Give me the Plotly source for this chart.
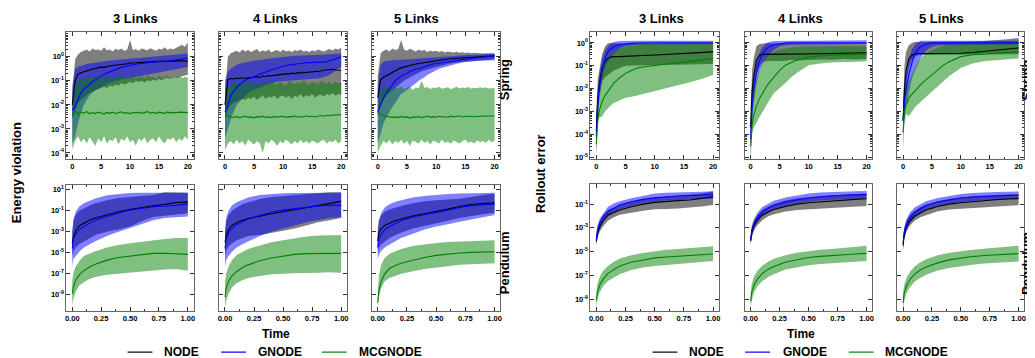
import plotly.graph_objects as go

W, H = 1035, 358
FONT = "Liberation Sans, Arial, sans-serif"

# ---------------- time grids ----------------
t_spring_energy = [0, 0.5, 1, 1.5, 2, 2.5, 3, 3.5, 4, 4.5,
                   5, 5.5, 6, 6.5, 7, 7.5, 8, 8.5, 9, 9.5,
                   10, 10.5, 11, 11.5, 12, 12.5, 13, 13.5, 14, 14.5,
                   15, 15.5, 16, 16.5, 17, 17.5, 18, 18.5, 19, 19.5, 20]
t_spring_rollout = [0, 0.1, 0.25, 0.5, 0.75, 1, 1.5, 2, 2.5, 3, 4, 5, 6, 7, 8, 10, 12, 14, 16, 18, 20]
t_pendulum = [0, 0.01, 0.03, 0.06, 0.1, 0.15, 0.2, 0.3, 0.4, 0.5, 0.6, 0.7, 0.8, 0.9, 1.0]

methods = ["NODE", "GNODE", "MCGNODE"]
link_titles = ["3 Links", "4 Links", "5 Links"]
x_ticks_spring = [0, 5, 10, 15, 20]
x_ticks_pendulum = [0, 0.25, 0.5, 0.75, 1.0]
x_ticklabels_pendulum = ["0.00", "0.25", "0.50", "0.75", "1.00"]

# All series values below are log10 of the plotted quantity.
# ---------------- Energy violation, Spring ----------------
es3_node_mean = [-2.0, -1.0, -0.72, -0.66, -0.62, -0.58, -0.55, -0.53, -0.5, -0.47,
                 -0.42, -0.44, -0.4, -0.38, -0.36, -0.35, -0.33, -0.32, -0.3, -0.29,
                 -0.26, -0.27, -0.25, -0.24, -0.23, -0.22, -0.23, -0.21, -0.2, -0.21,
                 -0.19, -0.18, -0.2, -0.18, -0.17, -0.19, -0.16, -0.18, -0.15, -0.17, -0.18]
es3_node_hi = [-1.5, -0.1, 0.1, 0.2, 0.25, 0.3, 0.22, 0.35, 0.28, 0.3,
               0.25, 0.4, 0.27, 0.3, 0.22, 0.33, 0.28, 0.35, 0.25, 0.3,
               0.7, 0.28, 0.32, 0.25, 0.35, 0.3, 0.27, 0.36, 0.3, 0.25,
               0.33, 0.3, 0.4, 0.28, 0.35, 0.3, 0.38, 0.45, 0.5, 0.42, 0.6]
es3_node_lo = [-2.6, -2.2, -1.9, -1.8, -1.7, -1.6, -1.5, -1.45, -1.4, -1.35,
               -1.3, -1.25, -1.3, -1.2, -1.25, -1.15, -1.2, -1.1, -1.15, -1.1,
               -1.05, -1.1, -1.0, -1.05, -1.0, -1.08, -0.98, -1.02, -0.95, -1.0,
               -0.92, -0.97, -0.9, -0.88, -0.92, -0.85, -0.88, -0.82, -0.8, -0.78, -0.75]
es3_gnode_mean = [-2.2, -2.1, -1.76, -1.5, -1.34, -1.22, -1.13, -1.03, -0.95, -0.85,
                  -0.77, -0.72, -0.67, -0.62, -0.56, -0.52, -0.48, -0.44, -0.4, -0.37,
                  -0.35, -0.33, -0.31, -0.29, -0.27, -0.25, -0.24, -0.23, -0.22, -0.21,
                  -0.21, -0.2, -0.19, -0.18, -0.16, -0.15, -0.13, -0.11, -0.09, -0.06, -0.04]
es3_gnode_hi = [-1.2, -0.5, -0.4, -0.38, -0.35, -0.3, -0.28, -0.25, -0.22, -0.2,
                -0.18, -0.17, -0.16, -0.15, -0.14, -0.13, -0.12, -0.11, -0.1, -0.09,
                -0.08, -0.06, -0.05, -0.04, -0.03, -0.02, -0.01, 0.0, 0.01, 0.02,
                0.03, 0.04, 0.05, 0.06, 0.07, 0.08, 0.09, 0.1, 0.11, 0.12, 0.14]
es3_gnode_lo = [-3.6, -3.3, -2.75, -2.35, -2.0, -1.8, -1.6, -1.48, -1.38, -1.32,
                -1.27, -1.2, -1.14, -1.08, -1.04, -1.0, -0.97, -0.94, -0.91, -0.88,
                -0.85, -0.83, -0.81, -0.79, -0.77, -0.75, -0.73, -0.71, -0.69, -0.67,
                -0.65, -0.63, -0.61, -0.59, -0.56, -0.54, -0.52, -0.5, -0.47, -0.45, -0.42]
es3_mc_mean = [-2.45, -2.25, -2.4, -2.3, -2.35, -2.28, -2.37, -2.32, -2.36, -2.3,
               -2.34, -2.38, -2.31, -2.35, -2.3, -2.36, -2.33, -2.29, -2.35, -2.32,
               -2.37, -2.31, -2.34, -2.3, -2.35, -2.33, -2.28, -2.34, -2.31, -2.36,
               -2.3, -2.33, -2.35, -2.29, -2.34, -2.31, -2.33, -2.3, -2.32, -2.31, -2.32]
es3_mc_hi = [-2.0, -1.3, -1.0, -0.95, -0.85, -0.9, -0.8, -0.95, -0.75, -0.88,
             -0.82, -0.92, -0.78, -0.85, -0.95, -0.8, -0.88, -0.7, -0.9, -0.83,
             -0.87, -0.78, -0.92, -0.84, -0.8, -0.9, -0.76, -0.86, -0.82, -0.93,
             -0.79, -0.85, -0.88, -0.77, -0.9, -0.83, -0.86, -0.8, -0.88, -0.84, -0.85]
es3_mc_lo = [-3.85, -3.5, -3.3, -3.55, -3.4, -3.6, -3.35, -3.5, -3.7, -3.4,
             -3.55, -3.3, -3.6, -3.45, -3.5, -3.35, -3.65, -3.4, -3.5, -3.3,
             -3.55, -3.45, -3.7, -3.4, -3.5, -3.35, -3.6, -3.45, -3.4, -3.55,
             -3.3, -3.5, -3.6, -3.4, -3.45, -3.35, -3.55, -3.4, -3.5, -3.3, -3.45]

es4_node_mean = [-2.0, -0.95, -0.9, -0.92, -0.88, -0.9, -0.87, -0.9, -0.86, -0.88,
                 -0.85, -0.83, -0.86, -0.8, -0.82, -0.78, -0.8, -0.76, -0.77, -0.72,
                 -0.74, -0.7, -0.72, -0.68, -0.7, -0.66, -0.68, -0.64, -0.66, -0.62,
                 -0.64, -0.6, -0.62, -0.58, -0.56, -0.54, -0.53, -0.52, -0.55, -0.54, -0.56]
es4_node_hi = [-1.5, 0.0, 0.15, 0.2, 0.25, 0.18, 0.3, 0.22, 0.28, 0.2,
               0.25, 0.32, 0.2, 0.27, 0.22, 0.3, 0.18, 0.25, 0.28, 0.2,
               0.3, 0.22, 0.26, 0.2, 0.28, 0.24, 0.3, 0.22, 0.25, 0.2,
               0.27, 0.23, 0.3, 0.25, 0.22, 0.28, 0.32, 0.26, 0.35, 0.3, 0.38]
es4_node_lo = [-2.6, -2.2, -2.0, -1.9, -1.85, -1.8, -1.75, -1.8, -1.7, -1.75,
               -1.65, -1.8, -1.7, -1.6, -1.75, -1.65, -1.7, -1.6, -1.75, -1.65,
               -1.6, -1.7, -1.62, -1.75, -1.6, -1.68, -1.55, -1.7, -1.6, -1.65,
               -1.55, -1.7, -1.6, -1.58, -1.65, -1.55, -1.6, -1.5, -1.62, -1.55, -1.58]
es4_gnode_mean = [-2.3, -2.0, -1.6, -1.42, -1.27, -1.15, -1.05, -0.97, -0.92, -0.88,
                  -0.85, -0.78, -0.72, -0.66, -0.63, -0.58, -0.54, -0.5, -0.46, -0.42,
                  -0.38, -0.36, -0.34, -0.32, -0.3, -0.28, -0.27, -0.26, -0.25, -0.24,
                  -0.24, -0.23, -0.22, -0.21, -0.21, -0.2, -0.17, -0.13, -0.09, -0.04, 0.0]
es4_gnode_hi = [-1.0, -0.6, -0.5, -0.4, -0.33, -0.28, -0.25, -0.22, -0.2, -0.18,
                -0.16, -0.14, -0.12, -0.1, -0.08, -0.07, -0.06, -0.05, -0.04, -0.02,
                0.0, 0.01, 0.02, 0.03, 0.04, 0.05, 0.06, 0.06, 0.07, 0.07,
                0.07, 0.08, 0.08, 0.09, 0.1, 0.1, 0.11, 0.12, 0.12, 0.13, 0.14]
es4_gnode_lo = [-3.4, -3.0, -2.6, -2.3, -2.0, -1.88, -1.75, -1.62, -1.5, -1.42,
                -1.36, -1.31, -1.27, -1.22, -1.18, -1.14, -1.1, -1.06, -1.03, -1.01,
                -1.0, -0.98, -0.97, -0.96, -0.95, -0.94, -0.93, -0.93, -0.92, -0.92,
                -0.92, -0.91, -0.9, -0.88, -0.85, -0.8, -0.75, -0.68, -0.58, -0.5, -0.42]
es4_mc_mean = [-2.5, -2.45, -2.5, -2.52, -2.48, -2.53, -2.5, -2.47, -2.52, -2.5,
               -2.54, -2.49, -2.51, -2.47, -2.52, -2.5, -2.53, -2.48, -2.51, -2.5,
               -2.47, -2.52, -2.49, -2.5, -2.46, -2.51, -2.48, -2.5, -2.45, -2.49,
               -2.47, -2.5, -2.46, -2.44, -2.47, -2.43, -2.45, -2.41, -2.43, -2.4, -2.42]
es4_mc_hi = [-2.0, -1.3, -1.1, -1.15, -1.0, -1.2, -1.05, -1.1, -0.95, -1.15,
             -1.08, -1.2, -1.0, -1.12, -1.05, -1.18, -0.98, -1.1, -1.15, -1.02,
             -1.12, -1.2, -1.0, -1.08, -1.15, -1.05, -1.12, -0.98, -1.1, -1.18,
             -1.03, -1.1, -1.15, -1.0, -1.08, -1.12, -1.05, -1.15, -1.02, -1.1, -1.08]
es4_mc_lo = [-3.9, -3.6, -3.5, -3.65, -3.45, -3.6, -3.5, -3.7, -3.45, -3.55,
             -3.65, -3.5, -3.6, -4.0, -3.5, -3.6, -3.45, -3.55, -3.7, -3.5,
             -3.6, -3.45, -3.55, -3.65, -3.5, -3.6, -3.45, -3.58, -3.5, -3.62,
             -3.48, -3.55, -3.6, -3.5, -3.45, -3.6, -3.5, -3.55, -3.45, -3.6, -3.5]

es5_node_mean = [-1.7, -0.95, -0.85, -0.78, -0.7, -0.63, -0.56, -0.52, -0.46, -0.42,
                 -0.38, -0.35, -0.33, -0.3, -0.28, -0.25, -0.23, -0.21, -0.19, -0.17,
                 -0.14, -0.13, -0.11, -0.1, -0.09, -0.08, -0.07, -0.06, -0.05, -0.05,
                 -0.04, -0.03, -0.02, -0.01, 0.0, 0.01, 0.02, 0.02, 0.03, 0.03, 0.04]
es5_node_hi = [-0.8, 0.15, 0.25, 0.3, 0.22, 0.35, 0.28, 0.32, 0.7, 0.3,
               0.25, 0.33, 0.28, 0.22, 0.3, 0.25, 0.28, 0.2, 0.26, 0.22,
               0.25, 0.2, 0.24, 0.18, 0.22, 0.2, 0.18, 0.21, 0.17, 0.19,
               0.16, 0.18, 0.15, 0.17, 0.15, 0.16, 0.14, 0.15, 0.14, 0.15, 0.14]
es5_node_lo = [-2.5, -2.0, -1.8, -1.6, -1.5, -1.4, -1.3, -1.2, -1.1, -1.0,
               -0.92, -0.85, -0.78, -0.72, -0.66, -0.6, -0.56, -0.52, -0.48, -0.45,
               -0.42, -0.39, -0.36, -0.33, -0.3, -0.28, -0.26, -0.24, -0.22, -0.2,
               -0.19, -0.18, -0.17, -0.16, -0.15, -0.14, -0.13, -0.12, -0.12, -0.11, -0.1]
es5_gnode_mean = [-2.3, -2.0, -1.7, -1.5, -1.34, -1.16, -1.0, -0.9, -0.8, -0.75,
                  -0.7, -0.6, -0.55, -0.52, -0.5, -0.45, -0.41, -0.37, -0.33, -0.3,
                  -0.28, -0.26, -0.24, -0.22, -0.2, -0.19, -0.18, -0.16, -0.14, -0.12,
                  -0.1, -0.09, -0.07, -0.06, -0.04, -0.03, -0.01, 0.0, 0.02, 0.03, 0.04]
es5_gnode_hi = [-1.2, -0.35, -0.2, -0.17, -0.15, -0.14, -0.14, -0.13, -0.13, -0.12,
                -0.12, -0.1, -0.09, -0.08, -0.07, -0.06, -0.05, -0.04, -0.03, -0.02,
                0.0, 0.01, 0.01, 0.02, 0.03, 0.04, 0.04, 0.05, 0.06, 0.06,
                0.07, 0.08, 0.08, 0.09, 0.1, 0.1, 0.11, 0.12, 0.12, 0.13, 0.14]
es5_gnode_lo = [-3.6, -3.2, -2.75, -2.5, -2.3, -2.1, -1.9, -1.72, -1.55, -1.47,
                -1.4, -1.3, -1.2, -1.1, -1.0, -0.92, -0.85, -0.76, -0.7, -0.62,
                -0.56, -0.5, -0.46, -0.42, -0.38, -0.35, -0.32, -0.29, -0.26, -0.23,
                -0.2, -0.19, -0.18, -0.17, -0.16, -0.16, -0.15, -0.15, -0.14, -0.14, -0.14]
es5_mc_mean = [-2.3, -2.4, -2.45, -2.48, -2.5, -2.52, -2.5, -2.53, -2.48, -2.52,
               -2.5, -2.55, -2.5, -2.52, -2.48, -2.53, -2.5, -2.47, -2.52, -2.49,
               -2.51, -2.47, -2.5, -2.48, -2.52, -2.46, -2.5, -2.48, -2.45, -2.5,
               -2.47, -2.49, -2.46, -2.5, -2.47, -2.48, -2.45, -2.47, -2.46, -2.45, -2.45]
es5_mc_hi = [-2.0, -1.4, -1.27, -1.3, -1.25, -1.35, -1.28, -1.32, -1.22, -1.35,
             -1.3, -1.25, -1.38, -1.28, -1.32, -1.0, -1.3, -1.26, -1.34, -1.28,
             -1.3, -1.24, -1.33, -1.29, -1.27, -1.35, -1.3, -1.25, -1.32, -1.28,
             -1.3, -1.26, -1.33, -1.29, -1.31, -1.27, -1.3, -1.28, -1.32, -1.3, -1.3]
es5_mc_lo = [-4.0, -3.7, -3.5, -3.6, -3.45, -3.65, -3.5, -3.58, -3.45, -3.62,
             -3.5, -3.7, -3.48, -3.55, -3.6, -3.45, -3.58, -3.5, -3.65, -3.48,
             -3.55, -3.6, -3.45, -3.58, -3.52, -3.62, -3.48, -3.55, -3.6, -3.5,
             -3.45, -3.58, -3.52, -3.6, -3.48, -3.55, -3.5, -3.58, -3.45, -3.55, -3.5]

# ---------------- Energy violation, Pendulum ----------------
ep3_node_mean = [-4.06, -3.5, -2.9, -2.45, -2.2, -1.9, -1.7, -1.4, -1.1, -0.9, -0.7, -0.53, -0.4, -0.22, -0.19]
ep3_node_hi = [-3.0, -2.0, -1.4, -1.0, -0.8, -0.5, -0.3, 0.0, 0.2, 0.3, 0.4, 0.5, 0.75, 0.7, 0.7]
ep3_node_lo = [-5.3, -4.9, -4.5, -4.2, -3.9, -3.6, -3.3, -3.0, -2.8, -2.5, -2.0, -1.6, -1.45, -1.35, -1.25]
ep3_gnode_mean = [-4.6, -3.7, -3.2, -2.8, -2.5, -2.2, -1.9, -1.56, -1.25, -0.94, -0.78, -0.63, -0.58, -0.5, -0.38]
ep3_gnode_hi = [-3.1, -1.8, -1.1, -0.6, -0.3, -0.05, 0.16, 0.47, 0.6, 0.68, 0.7, 0.7, 0.72, 0.7, 0.7]
ep3_gnode_lo = [-6.25, -5.6, -5.3, -4.9, -4.5, -4.2, -3.9, -3.4, -3.0, -2.65, -2.3, -1.9, -1.7, -1.62, -1.56]
ep3_mc_mean = [-8.9, -8.2, -7.6, -7.1, -6.7, -6.35, -6.1, -5.7, -5.45, -5.3, -5.15, -5.06, -5.05, -5.08, -5.15]
ep3_mc_hi = [-7.65, -6.9, -6.3, -5.8, -5.3, -5.05, -4.85, -4.5, -4.25, -4.1, -3.95, -3.8, -3.7, -3.6, -3.6]
ep3_mc_lo = [-10.0, -9.4, -8.7, -8.1, -7.8, -7.5, -7.3, -7.1, -7.0, -6.9, -6.8, -6.7, -6.6, -6.55, -6.7]

ep4_node_mean = [-4.0, -3.4, -2.8, -2.4, -2.15, -1.9, -1.75, -1.5, -1.3, -1.1, -0.9, -0.7, -0.45, -0.25, -0.12]
ep4_node_hi = [-3.0, -2.0, -1.4, -1.0, -0.7, -0.4, -0.2, 0.1, 0.3, 0.4, 0.5, 0.6, 0.7, 0.75, 0.75]
ep4_node_lo = [-5.2, -4.8, -4.4, -4.1, -3.8, -3.6, -3.4, -3.3, -3.1, -2.9, -2.7, -2.4, -2.1, -1.9, -1.7]
ep4_gnode_mean = [-4.6, -3.7, -3.1, -2.7, -2.35, -2.05, -1.8, -1.45, -1.15, -0.95, -0.8, -0.65, -0.55, -0.5, -0.47]
ep4_gnode_hi = [-3.0, -1.7, -1.0, -0.5, -0.2, 0.05, 0.25, 0.5, 0.6, 0.65, 0.68, 0.7, 0.7, 0.72, 0.7]
ep4_gnode_lo = [-6.3, -5.7, -5.3, -4.9, -4.5, -4.2, -3.9, -3.4, -3.0, -2.7, -2.4, -2.1, -1.9, -1.7, -1.6]
ep4_mc_mean = [-9.2, -8.4, -7.7, -7.2, -6.8, -6.4, -6.15, -5.75, -5.5, -5.3, -5.15, -5.08, -5.05, -5.06, -5.06]
ep4_mc_hi = [-7.8, -7.0, -6.3, -5.7, -5.2, -4.9, -4.65, -4.3, -4.0, -3.8, -3.6, -3.45, -3.35, -3.3, -3.3]
ep4_mc_lo = [-10.2, -9.6, -8.9, -8.3, -7.9, -7.6, -7.4, -7.2, -7.05, -7.0, -6.95, -6.9, -6.9, -6.85, -6.9]

ep5_node_mean = [-3.9, -3.1, -2.7, -2.4, -2.2, -1.95, -1.8, -1.5, -1.3, -1.1, -0.85, -0.6, -0.42, -0.32, -0.25]
ep5_node_hi = [-2.8, -1.9, -1.4, -1.1, -0.9, -0.7, -0.55, -0.3, -0.1, 0.0, 0.08, 0.14, 0.3, 0.5, 0.6]
ep5_node_lo = [-5.0, -4.5, -4.2, -3.9, -3.6, -3.3, -3.1, -2.7, -2.45, -2.2, -1.95, -1.7, -1.5, -1.35, -1.2]
ep5_gnode_mean = [-4.5, -3.7, -3.2, -2.8, -2.5, -2.2, -1.95, -1.6, -1.4, -1.2, -0.95, -0.7, -0.52, -0.43, -0.38]
ep5_gnode_hi = [-3.3, -2.0, -1.2, -0.7, -0.4, -0.15, 0.0, 0.25, 0.4, 0.5, 0.58, 0.62, 0.66, 0.68, 0.7]
ep5_gnode_lo = [-5.6, -5.2, -4.8, -4.5, -4.2, -3.9, -3.6, -3.2, -2.8, -2.5, -2.3, -2.05, -1.8, -1.6, -1.4]
ep5_mc_mean = [-9.75, -8.6, -7.7, -7.0, -6.5, -6.2, -6.0, -5.7, -5.45, -5.25, -5.12, -5.02, -4.96, -4.92, -4.9]
ep5_mc_hi = [-8.75, -7.2, -6.1, -5.5, -5.1, -4.85, -4.65, -4.35, -4.2, -4.06, -3.98, -3.92, -3.87, -3.83, -3.8]
ep5_mc_lo = [-10.0, -9.2, -8.3, -7.7, -7.4, -7.2, -7.0, -6.75, -6.55, -6.4, -6.28, -6.15, -6.08, -6.03, -6.0]

# ---------------- Rollout error, Spring ----------------
rs3_node_mean = [-3.85, -3.0, -2.45, -1.83, -1.4, -1.1, -0.82, -0.68, -0.62, -0.6, -0.6, -0.58, -0.57, -0.56, -0.55, -0.53, -0.5, -0.46, -0.43, -0.41, -0.39]
rs3_node_hi = [-3.0, -2.0, -1.6, -1.2, -0.8, -0.5, -0.15, -0.02, 0.0, -0.02, -0.03, -0.04, -0.05, -0.05, -0.05, -0.05, -0.05, -0.04, -0.04, -0.04, -0.03]
rs3_node_lo = [-4.6, -4.0, -3.3, -2.3, -1.95, -1.7, -1.5, -1.4, -1.3, -1.2, -1.1, -1.0, -1.0, -0.98, -0.98, -0.97, -0.96, -0.95, -0.95, -0.93, -0.92]
rs3_gnode_mean = [-4.1, -3.3, -2.7, -1.97, -1.5, -1.18, -0.68, -0.39, -0.26, -0.17, -0.07, -0.03, -0.02, -0.01, 0.0, 0.0, 0.0, 0.0, 0.0, 0.0, 0.0]
rs3_gnode_hi = [-3.3, -2.5, -2.0, -1.4, -1.0, -0.7, -0.35, -0.15, -0.03, 0.04, 0.08, 0.09, 0.09, 0.09, 0.09, 0.09, 0.09, 0.09, 0.09, 0.1, 0.1]
rs3_gnode_lo = [-4.9, -4.0, -3.4, -2.55, -2.1, -1.62, -1.1, -0.82, -0.62, -0.46, -0.24, -0.13, -0.1, -0.08, -0.07, -0.07, -0.07, -0.06, -0.06, -0.06, -0.06]
rs3_mc_mean = [-4.42, -3.8, -3.4, -2.98, -2.75, -2.55, -2.3, -2.12, -1.93, -1.76, -1.52, -1.33, -1.2, -1.1, -1.05, -0.97, -0.92, -0.87, -0.82, -0.75, -0.68]
rs3_mc_hi = [-3.56, -3.0, -2.5, -1.97, -1.55, -1.25, -0.9, -0.68, -0.5, -0.39, -0.25, -0.17, -0.11, -0.07, -0.05, -0.03, -0.03, -0.03, -0.03, -0.03, -0.03]
rs3_mc_lo = [-4.93, -4.2, -3.6, -3.27, -3.25, -3.2, -3.0, -2.84, -2.72, -2.62, -2.5, -2.4, -2.35, -2.3, -2.25, -2.12, -2.0, -1.85, -1.72, -1.58, -1.4]

rs4_node_mean = [-3.7, -2.8, -2.1, -1.5, -1.0, -0.75, -0.55, -0.5, -0.5, -0.5, -0.5, -0.5, -0.5, -0.5, -0.49, -0.48, -0.47, -0.46, -0.45, -0.44, -0.43]
rs4_node_hi = [-2.8, -1.8, -1.2, -0.7, -0.35, -0.15, -0.05, -0.02, -0.02, -0.02, -0.03, -0.03, -0.03, -0.03, -0.03, -0.03, -0.03, -0.03, -0.03, -0.03, -0.03]
rs4_node_lo = [-4.5, -3.6, -2.9, -2.3, -1.8, -1.4, -1.05, -0.85, -0.8, -0.78, -0.78, -0.8, -0.78, -0.75, -0.77, -0.75, -0.72, -0.74, -0.7, -0.72, -0.7]
rs4_gnode_mean = [-4.2, -3.4, -2.8, -2.1, -1.65, -1.3, -0.8, -0.5, -0.32, -0.2, -0.08, -0.03, -0.01, 0.0, 0.0, 0.0, 0.0, 0.0, 0.0, 0.0, 0.0]
rs4_gnode_hi = [-3.4, -2.6, -2.1, -1.5, -1.1, -0.8, -0.45, -0.2, -0.06, 0.03, 0.08, 0.09, 0.09, 0.09, 0.09, 0.09, 0.09, 0.09, 0.09, 0.1, 0.12]
rs4_gnode_lo = [-5.0, -4.1, -3.5, -2.7, -2.25, -1.8, -1.25, -0.95, -0.72, -0.55, -0.3, -0.15, -0.1, -0.08, -0.07, -0.07, -0.06, -0.06, -0.06, -0.05, -0.05]
rs4_mc_mean = [-4.5, -4.0, -3.6, -3.2, -2.95, -2.75, -2.45, -2.2, -2.0, -1.8, -1.5, -1.2, -0.97, -0.85, -0.75, -0.62, -0.56, -0.53, -0.51, -0.5, -0.49]
rs4_mc_hi = [-3.8, -3.2, -2.7, -2.2, -1.85, -1.6, -1.2, -0.9, -0.7, -0.55, -0.4, -0.3, -0.24, -0.2, -0.17, -0.16, -0.15, -0.15, -0.15, -0.15, -0.15]
rs4_mc_lo = [-5.1, -4.5, -4.0, -3.7, -3.6, -3.5, -3.25, -3.0, -2.8, -2.6, -2.2, -1.97, -1.75, -1.5, -1.3, -0.97, -0.9, -0.85, -0.82, -0.82, -0.8]

rs5_node_mean = [-3.4, -2.6, -2.0, -1.25, -0.9, -0.68, -0.55, -0.47, -0.46, -0.46, -0.46, -0.46, -0.46, -0.46, -0.46, -0.45, -0.42, -0.37, -0.31, -0.26, -0.22]
rs5_node_hi = [-2.8, -1.6, -1.0, -0.4, -0.2, -0.1, 0.0, 0.04, 0.04, 0.04, 0.04, 0.04, 0.04, 0.04, 0.04, 0.05, 0.06, 0.08, 0.11, 0.16, 0.22]
rs5_node_lo = [-4.0, -3.4, -2.9, -2.26, -1.5, -1.1, -0.75, -0.6, -0.55, -0.53, -0.53, -0.53, -0.53, -0.53, -0.53, -0.53, -0.52, -0.5, -0.5, -0.5, -0.5]
rs5_gnode_mean = [-3.4, -2.9, -2.5, -2.12, -1.75, -1.4, -0.9, -0.53, -0.3, -0.17, -0.05, 0.0, 0.0, 0.0, 0.0, 0.0, 0.0, 0.0, 0.0, 0.0, 0.0]
rs5_gnode_hi = [-2.8, -2.2, -1.8, -1.4, -1.0, -0.68, -0.3, -0.1, 0.02, 0.09, 0.09, 0.09, 0.09, 0.09, 0.09, 0.09, 0.09, 0.09, 0.09, 0.1, 0.1]
rs5_gnode_lo = [-4.0, -3.6, -3.2, -2.84, -2.5, -2.12, -1.6, -1.25, -0.95, -0.68, -0.32, -0.17, -0.1, -0.07, -0.07, -0.07, -0.07, -0.07, -0.07, -0.07, -0.07]
rs5_mc_mean = [-3.9, -3.3, -3.0, -2.7, -2.6, -2.4, -2.25, -2.12, -1.98, -1.83, -1.6, -1.4, -1.17, -0.97, -0.82, -0.6, -0.52, -0.48, -0.45, -0.42, -0.39]
rs5_mc_hi = [-3.27, -2.6, -2.2, -2.12, -1.9, -1.68, -1.4, -1.1, -0.85, -0.68, -0.45, -0.32, -0.22, -0.13, -0.09, -0.07, -0.05, -0.04, -0.03, -0.03, -0.03]
rs5_mc_lo = [-4.7, -4.0, -3.5, -3.13, -3.15, -3.2, -3.0, -2.84, -2.7, -2.55, -2.35, -2.12, -1.9, -1.69, -1.45, -1.1, -0.9, -0.8, -0.75, -0.72, -0.68]

# ---------------- Rollout error, Pendulum ----------------
rp3_node_mean = [-4.14, -3.5, -2.9, -2.4, -1.92, -1.7, -1.5, -1.22, -1.0, -0.85, -0.75, -0.7, -0.65, -0.52, -0.39]
rp3_node_hi = [-3.8, -3.0, -2.4, -1.9, -1.5, -1.25, -1.05, -0.8, -0.6, -0.45, -0.38, -0.3, -0.22, -0.1, 0.08]
rp3_node_lo = [-4.4, -3.9, -3.3, -2.85, -2.4, -2.1, -1.9, -1.7, -1.55, -1.44, -1.4, -1.36, -1.3, -1.2, -1.08]
rp3_gnode_mean = [-4.0, -3.2, -2.6, -2.1, -1.64, -1.35, -1.08, -0.8, -0.6, -0.47, -0.38, -0.32, -0.27, -0.22, -0.19]
rp3_gnode_hi = [-3.6, -2.8, -2.2, -1.75, -1.22, -0.95, -0.75, -0.5, -0.3, -0.11, -0.05, 0.0, 0.03, 0.05, 0.08]
rp3_gnode_lo = [-4.55, -3.7, -3.0, -2.5, -2.05, -1.75, -1.44, -1.15, -0.9, -0.8, -0.7, -0.65, -0.6, -0.56, -0.53]
rp3_mc_mean = [-9.14, -8.4, -7.8, -7.3, -6.83, -6.5, -6.22, -5.9, -5.7, -5.53, -5.45, -5.38, -5.3, -5.25, -5.2]
rp3_mc_hi = [-8.45, -7.7, -7.1, -6.6, -6.22, -5.85, -5.58, -5.3, -5.12, -4.97, -4.85, -4.78, -4.7, -4.62, -4.55]
rp3_mc_lo = [-9.7, -9.0, -8.4, -7.9, -7.47, -7.15, -6.9, -6.55, -6.35, -6.22, -6.1, -6.0, -5.95, -5.88, -5.8]

rp4_node_mean = [-4.1, -3.4, -2.8, -2.3, -1.9, -1.65, -1.45, -1.2, -1.0, -0.88, -0.8, -0.73, -0.67, -0.6, -0.55]
rp4_node_hi = [-3.8, -3.0, -2.4, -1.9, -1.5, -1.2, -1.0, -0.7, -0.5, -0.4, -0.32, -0.25, -0.2, -0.15, -0.1]
rp4_node_lo = [-4.4, -3.8, -3.2, -2.75, -2.35, -2.05, -1.85, -1.62, -1.5, -1.4, -1.35, -1.3, -1.25, -1.2, -1.15]
rp4_gnode_mean = [-4.0, -3.2, -2.6, -2.1, -1.65, -1.35, -1.1, -0.82, -0.62, -0.48, -0.38, -0.3, -0.25, -0.22, -0.2]
rp4_gnode_hi = [-3.6, -2.8, -2.2, -1.7, -1.25, -0.95, -0.72, -0.45, -0.25, -0.1, -0.02, 0.03, 0.06, 0.08, 0.1]
rp4_gnode_lo = [-4.5, -3.7, -3.0, -2.5, -2.05, -1.75, -1.45, -1.15, -0.92, -0.8, -0.7, -0.64, -0.58, -0.55, -0.52]
rp4_mc_mean = [-9.2, -8.4, -7.8, -7.3, -6.85, -6.5, -6.25, -5.9, -5.68, -5.5, -5.4, -5.32, -5.25, -5.2, -5.15]
rp4_mc_hi = [-8.5, -7.7, -7.1, -6.6, -6.2, -5.85, -5.6, -5.3, -5.1, -4.95, -4.85, -4.78, -4.7, -4.62, -4.5]
rp4_mc_lo = [-9.8, -9.1, -8.4, -7.9, -7.5, -7.15, -6.9, -6.5, -6.3, -6.15, -6.05, -5.97, -5.9, -5.85, -5.8]

rp5_node_mean = [-4.5, -3.6, -2.9, -2.4, -2.0, -1.72, -1.5, -1.2, -1.0, -0.88, -0.78, -0.7, -0.63, -0.57, -0.53]
rp5_node_hi = [-4.0, -3.1, -2.4, -1.9, -1.55, -1.25, -1.05, -0.75, -0.55, -0.42, -0.33, -0.27, -0.22, -0.18, -0.15]
rp5_node_lo = [-4.9, -4.0, -3.3, -2.8, -2.4, -2.1, -1.9, -1.6, -1.45, -1.35, -1.3, -1.25, -1.2, -1.15, -1.1]
rp5_gnode_mean = [-4.3, -3.4, -2.7, -2.15, -1.7, -1.38, -1.12, -0.82, -0.62, -0.48, -0.4, -0.34, -0.3, -0.27, -0.25]
rp5_gnode_hi = [-3.8, -2.9, -2.25, -1.7, -1.28, -0.98, -0.75, -0.48, -0.28, -0.14, -0.06, 0.0, 0.03, 0.05, 0.07]
rp5_gnode_lo = [-4.8, -3.9, -3.2, -2.6, -2.15, -1.8, -1.5, -1.18, -0.95, -0.82, -0.74, -0.68, -0.62, -0.58, -0.55]
rp5_mc_mean = [-9.3, -8.5, -7.9, -7.35, -6.9, -6.55, -6.3, -5.95, -5.7, -5.53, -5.42, -5.33, -5.26, -5.2, -5.17]
rp5_mc_hi = [-8.6, -7.8, -7.2, -6.7, -6.25, -5.9, -5.65, -5.3, -5.1, -4.95, -4.85, -4.75, -4.65, -4.57, -4.5]
rp5_mc_lo = [-9.9, -9.2, -8.5, -8.0, -7.55, -7.2, -6.95, -6.6, -6.38, -6.22, -6.1, -6.0, -5.93, -5.87, -5.83]

# ---------------- panel table ----------------
panel_series = {
    "es3": [(es3_node_mean, es3_node_lo, es3_node_hi), (es3_gnode_mean, es3_gnode_lo, es3_gnode_hi), (es3_mc_mean, es3_mc_lo, es3_mc_hi)],
    "es4": [(es4_node_mean, es4_node_lo, es4_node_hi), (es4_gnode_mean, es4_gnode_lo, es4_gnode_hi), (es4_mc_mean, es4_mc_lo, es4_mc_hi)],
    "es5": [(es5_node_mean, es5_node_lo, es5_node_hi), (es5_gnode_mean, es5_gnode_lo, es5_gnode_hi), (es5_mc_mean, es5_mc_lo, es5_mc_hi)],
    "ep3": [(ep3_node_mean, ep3_node_lo, ep3_node_hi), (ep3_gnode_mean, ep3_gnode_lo, ep3_gnode_hi), (ep3_mc_mean, ep3_mc_lo, ep3_mc_hi)],
    "ep4": [(ep4_node_mean, ep4_node_lo, ep4_node_hi), (ep4_gnode_mean, ep4_gnode_lo, ep4_gnode_hi), (ep4_mc_mean, ep4_mc_lo, ep4_mc_hi)],
    "ep5": [(ep5_node_mean, ep5_node_lo, ep5_node_hi), (ep5_gnode_mean, ep5_gnode_lo, ep5_gnode_hi), (ep5_mc_mean, ep5_mc_lo, ep5_mc_hi)],
    "rs3": [(rs3_node_mean, rs3_node_lo, rs3_node_hi), (rs3_gnode_mean, rs3_gnode_lo, rs3_gnode_hi), (rs3_mc_mean, rs3_mc_lo, rs3_mc_hi)],
    "rs4": [(rs4_node_mean, rs4_node_lo, rs4_node_hi), (rs4_gnode_mean, rs4_gnode_lo, rs4_gnode_hi), (rs4_mc_mean, rs4_mc_lo, rs4_mc_hi)],
    "rs5": [(rs5_node_mean, rs5_node_lo, rs5_node_hi), (rs5_gnode_mean, rs5_gnode_lo, rs5_gnode_hi), (rs5_mc_mean, rs5_mc_lo, rs5_mc_hi)],
    "rp3": [(rp3_node_mean, rp3_node_lo, rp3_node_hi), (rp3_gnode_mean, rp3_gnode_lo, rp3_gnode_hi), (rp3_mc_mean, rp3_mc_lo, rp3_mc_hi)],
    "rp4": [(rp4_node_mean, rp4_node_lo, rp4_node_hi), (rp4_gnode_mean, rp4_gnode_lo, rp4_gnode_hi), (rp4_mc_mean, rp4_mc_lo, rp4_mc_hi)],
    "rp5": [(rp5_node_mean, rp5_node_lo, rp5_node_hi), (rp5_gnode_mean, rp5_gnode_lo, rp5_gnode_hi), (rp5_mc_mean, rp5_mc_lo, rp5_mc_hi)],
}

# ---------------- styling / geometry ----------------
LINE_COLORS = ["black", "#0000ff", "#008000"]
FILL_COLORS = ["rgba(0,0,0,0.5)", "rgba(0,0,255,0.5)", "rgba(0,128,0,0.5)"]

kinds = {
    "es": dict(t=t_spring_energy, yrange=[-4.25, 1.03], yexp=[0, -1, -2, -3, -4], yminor=True, spring=True),
    "ep": dict(t=t_pendulum, yrange=[-10.56, 1.41], yexp=[1, -1, -3, -5, -7, -9], yminor=False, spring=False),
    "rs": dict(t=t_spring_rollout, yrange=[-5.07, 0.475], yexp=[0, -1, -2, -3, -4, -5], yminor=True, spring=True),
    "rp": dict(t=t_pendulum, yrange=[-10.03, 0.67], yexp=[-1, -3, -5, -7, -9], yminor=False, spring=False),
}

left_cols = [(56.7, 184.3), (210.0, 338.3), (363.3, 492.3)]
right_cols = [(582.7, 711.7), (737.7, 865.7), (890.7, 1018.3)]
top_row = (23.3, 151.7)
bot_row_left = (178.3, 305.7)
bot_row_right = (177.3, 305.7)
title_cx_left = [125.8, 267.0, 408.0]
title_cx_right = [654.0, 794.0, 934.7]

panels = []
for c in range(3):
    panels.append((f"es{c+3}", "es", left_cols[c], top_row, c))
for c in range(3):
    panels.append((f"ep{c+3}", "ep", left_cols[c], bot_row_left, c))
for c in range(3):
    panels.append((f"rs{c+3}", "rs", right_cols[c], top_row, c))
for c in range(3):
    panels.append((f"rp{c+3}", "rp", right_cols[c], bot_row_right, c))

fig = go.Figure()
layout_axes = {}
minor_log = [m * 10.0 ** k for k in range(-12, 2) for m in range(2, 10)]

for i, (key, kind, (x0, x1), (y0, y1), col) in enumerate(panels):
    n = i + 1
    xa = "x" if n == 1 else f"x{n}"
    ya = "y" if n == 1 else f"y{n}"
    spec = kinds[kind]
    t = spec["t"]
    ser = panel_series[key]
    for (mean, lo, hi) in ser:
        if not (len(mean) == len(lo) == len(hi) == len(t)):
            raise ValueError(f"length mismatch in {key}: {len(mean)},{len(lo)},{len(hi)} vs {len(t)}")
    for (mean, lo, hi), fc in zip(ser, FILL_COLORS):
        fig.add_trace(go.Scatter(
            x=list(t) + list(t)[::-1],
            y=[10 ** v for v in hi] + [10 ** v for v in lo][::-1],
            fill="toself", fillcolor=fc, mode="lines", line=dict(width=0, color=fc),
            hoverinfo="skip", showlegend=False, xaxis=xa, yaxis=ya))
    for (mean, lo, hi), lc, name in zip(ser, LINE_COLORS, methods):
        fig.add_trace(go.Scatter(
            x=t, y=[10 ** v for v in mean], mode="lines", name=name,
            line=dict(color=lc, width=1.1), showlegend=False, xaxis=xa, yaxis=ya))

    if spec["spring"]:
        xr = [-1, 21]
        xtv = x_ticks_spring
        xtt = [f"<b>{v}</b>" for v in x_ticks_spring]
        xminor = [2.5, 7.5, 12.5, 17.5]
    else:
        xr = [-0.05, 1.05]
        xtv = x_ticks_pendulum
        xtt = [f"<b>{s}</b>" for s in x_ticklabels_pendulum]
        xminor = [0.125, 0.375, 0.625, 0.875]

    common = dict(showline=True, linecolor="#666666", linewidth=1, mirror="allticks",
                  ticks="inside", ticklen=4, tickwidth=1, tickcolor="#333333",
                  showgrid=False, zeroline=False,
                  tickfont=dict(family=FONT, size=7.5, color="black"))
    layout_axes["xaxis" if n == 1 else f"xaxis{n}"] = dict(
        domain=[x0 / W, x1 / W], anchor=ya, range=xr,
        tickmode="array", tickvals=xtv, ticktext=xtt,
        minor=dict(ticks="inside", ticklen=2, tickcolor="#333333", tickvals=xminor, showgrid=False),
        **common)
    ytv = [10.0 ** e for e in spec["yexp"]]
    ytt = [f"<b>10<sup>{e}</sup></b>" for e in spec["yexp"]]
    yax = dict(
        type="log", domain=[1 - y1 / H, 1 - y0 / H], anchor=xa, range=spec["yrange"],
        tickmode="array", tickvals=ytv, ticktext=ytt, showticklabels=(col == 0),
        **common)
    if spec["yminor"]:
        yax["minor"] = dict(ticks="inside", ticklen=2, tickcolor="#333333", tickvals=minor_log, showgrid=False)
    layout_axes["yaxis" if n == 1 else f"yaxis{n}"] = yax

fig.update_layout(**layout_axes)

# ---------------- text ----------------
ann = []
def px_ann(text, x, y, size, angle=0, xanchor="center"):
    ann.append(dict(text=f"<b>{text}</b>", x=x / W, y=1 - y / H, xref="paper", yref="paper",
                    showarrow=False, textangle=angle, xanchor=xanchor, yanchor="middle",
                    font=dict(family=FONT, size=size, color="black")))

for cx, title in zip(title_cx_left, link_titles):
    px_ann(title, cx, 10, 13)
for cx, title in zip(title_cx_right, link_titles):
    px_ann(title, cx, 10, 13)

# rotated labels: the rendered glyphs land ~7 px right of the anchor, so anchors are offset
ROT_DX = -7
px_ann("Energy violation", 13 + ROT_DX, 165, 13, -90)
px_ann("Rollout error", 539 + ROT_DX, 166, 13, -90)
px_ann("Spring", 503 + ROT_DX, 72, 13, -90)
px_ann("Pendulum", 503 + ROT_DX, 257, 13, -90)
px_ann("Spring", 1027.5 + ROT_DX, 72, 13, -90)
px_ann("Pendulum", 1027.5 + ROT_DX, 257, 13, -90)
px_ann("Time", 267, 329, 12)
px_ann("Time", 794, 329, 12)

shapes = []
legend_rows = [
    [(118, 143, 153), (212, 237, 247), (313, 338, 348)],
    [(645, 670, 680), (738, 763, 774), (842, 867, 876)],
]
for row in legend_rows:
    for (lx0, lx1, tx), name, lc in zip(row, methods, LINE_COLORS):
        shapes.append(dict(type="line", xref="paper", yref="paper",
                           x0=lx0 / W, x1=lx1 / W, y0=1 - 347 / H, y1=1 - 347 / H,
                           line=dict(color=lc, width=1.2)))
        px_ann(name, tx, 347, 12, 0, "left")

fig.update_layout(
    width=W, height=H, margin=dict(l=0, r=0, t=0, b=0),
    paper_bgcolor="white", plot_bgcolor="white",
    annotations=ann, shapes=shapes, showlegend=False,
    font=dict(family=FONT, color="black"),
)

fig.write_html("out.html")
